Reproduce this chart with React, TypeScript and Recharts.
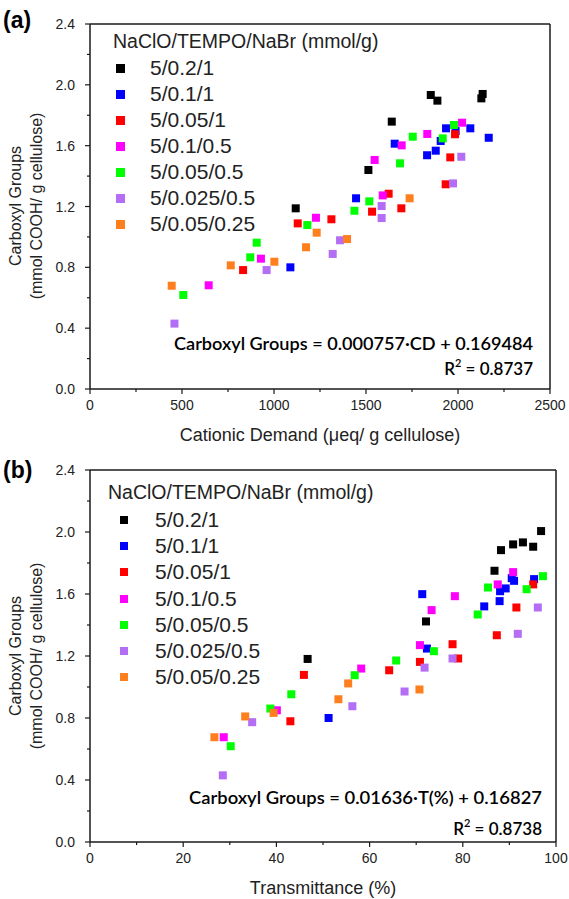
import * as React from 'react';
import { ScatterChart, Scatter, XAxis, YAxis, ReferenceLine, Legend } from 'recharts';

const seriesNames = ['5/0.2/1', '5/0.1/1', '5/0.05/1', '5/0.1/0.5', '5/0.05/0.5', '5/0.025/0.5', '5/0.05/0.25'];
const seriesColors = ['#000000', '#0000ff', '#ff0000', '#ff00ff', '#00ff00', '#b36ef5', '#ff7f1f'];

// (a) cationic demand (ueq/g) vs carboxyl groups (mmol/g)
const cdBlack = [[1118, 1.188], [1513, 1.44], [1640, 1.758], [1852, 1.933], [1888, 1.896], [2127, 1.911], [2134, 1.94]];
const cdBlue = [[1089, 0.8], [1446, 1.254], [1656, 1.613], [1832, 1.537], [1879, 1.567], [1906, 1.631], [1935, 1.714], [1987, 1.696], [2067, 1.714], [2167, 1.652]];
const cdRed = [[832, 0.782], [1129, 1.089], [1312, 1.116], [1533, 1.166], [1623, 1.284], [1692, 1.188], [1933, 1.346], [1958, 1.523], [1984, 1.675]];
const cdMagenta = [[645, 0.682], [929, 0.857], [1228, 1.126], [1547, 1.506], [1591, 1.273], [1694, 1.602], [1833, 1.677], [2022, 1.751]];
const cdGreen = [[507, 0.618], [871, 0.866], [906, 0.962], [1181, 1.078], [1437, 1.172], [1518, 1.234], [1685, 1.484], [1754, 1.659], [1917, 1.648], [1978, 1.736]];
const cdPurple = [[459, 0.43], [960, 0.782], [1319, 0.888], [1359, 0.978], [1585, 1.203], [1585, 1.124], [1973, 1.352], [2018, 1.527]];
const cdOrange = [[444, 0.679], [765, 0.813], [1002, 0.837], [1174, 0.932], [1232, 1.028], [1397, 0.986], [1737, 1.254]];

// (b) transmittance (%) vs carboxyl groups (mmol/g)
const tBlack = [[46.7, 1.181], [72.1, 1.423], [86.8, 1.75], [88.2, 1.883], [90.8, 1.92], [92.9, 1.933], [95.1, 1.905], [96.8, 2.006]];
const tBlue = [[51.2, 0.8], [71.3, 1.599], [72.3, 1.248], [84.6, 1.52], [87.9, 1.554], [88.0, 1.618], [89.2, 1.636], [90.5, 1.702], [91.0, 1.685], [95.3, 1.696]];
const tRed = [[43.0, 0.779], [45.9, 1.078], [64.2, 1.108], [70.8, 1.162], [77.8, 1.276], [79.0, 1.184], [87.3, 1.334], [91.5, 1.513], [95.1, 1.662]];
const tMagenta = [[28.7, 0.676], [40.1, 0.85], [58.2, 1.119], [70.8, 1.27], [73.3, 1.496], [78.3, 1.586], [87.5, 1.662], [90.8, 1.741]];
const tGreen = [[30.2, 0.618], [38.7, 0.861], [43.2, 0.953], [56.8, 1.076], [65.7, 1.171], [73.8, 1.231], [83.2, 1.468], [85.4, 1.642], [93.7, 1.631], [97.2, 1.715]];
const tPurple = [[28.5, 0.43], [34.8, 0.773], [56.3, 0.876], [67.5, 0.971], [71.8, 1.125], [77.8, 1.184], [91.8, 1.343], [96.1, 1.513]];
const tOrange = [[26.7, 0.676], [33.3, 0.81], [39.4, 0.833], [53.3, 0.921], [55.4, 1.023], [70.7, 0.984]];

const cdTicks = [0, 250, 500, 750, 1000, 1250, 1500, 1750, 2000, 2250, 2500];
const tTicks = [0, 10, 20, 30, 40, 50, 60, 70, 80, 90, 100];
const cgTicks = [0, 0.2, 0.4, 0.6, 0.8, 1.0, 1.2, 1.4, 1.6, 1.8, 2.0, 2.2, 2.4];

const AXIS = '#1a1a1a';
const SANS = '"Liberation Sans", Arial, sans-serif';

const toPts = (arr: number[][]) => arr.map(([x, y]) => ({ x, y }));

const square = (color: string, s: number) => (p: any) => (
  <rect x={p.cx - s / 2} y={p.cy - s / 2} width={s} height={s} fill={color} />
);

const xTick = (majorStep: number) => (p: any) => {
  const v = p.payload.value;
  const major = Math.round(v) % majorStep === 0;
  return (
    <g>
      <line x1={p.x} x2={p.x} y1={p.y} y2={p.y + (major ? 5 : 3)} stroke={AXIS} strokeWidth={1.2} />
      {major && (
        <text x={p.x} y={p.y + 16} textAnchor="middle" dominantBaseline="central" fontSize={14} fontFamily={SANS} fill="#222">
          {v}
        </text>
      )}
    </g>
  );
};

const yTick = (p: any) => {
  const v = p.payload.value;
  const major = Math.round(v * 10) % 4 === 0;
  return (
    <g>
      <line x1={p.x} x2={p.x - (major ? 5 : 3)} y1={p.y} y2={p.y} stroke={AXIS} strokeWidth={1.2} />
      {major && (
        <text x={p.x - 15} y={p.y} textAnchor="end" dominantBaseline="central" fontSize={14} fontFamily={SANS} fill="#222">
          {v.toFixed(1)}
        </text>
      )}
    </g>
  );
};

const legendContent = (o: { markX: number; textX: number; mark: number; titleH: number; rowH: number }) => (props: any) => {
  const items = [...(props.payload || [])].sort(
    (a: any, b: any) => seriesNames.indexOf(a.value) - seriesNames.indexOf(b.value)
  );
  return (
    <div style={{ fontFamily: SANS, color: '#222' }}>
      <div style={{ height: o.titleH, lineHeight: '26px', fontSize: 19.5, whiteSpace: 'nowrap' }}>NaClO/TEMPO/NaBr (mmol/g)</div>
      {items.map((e: any, i: number) => (
        <div key={i} style={{ position: 'relative', height: o.rowH }}>
          <span style={{ position: 'absolute', left: o.markX - o.mark / 2, top: o.rowH / 2 - o.mark / 2, width: o.mark, height: o.mark, background: e.color }} />
          <span style={{ position: 'absolute', left: o.textX, top: 0, lineHeight: `${o.rowH}px`, fontSize: 21, whiteSpace: 'nowrap' }}>{e.value}</span>
        </div>
      ))}
    </div>
  );
};

type PanelProps = {
  top: number;
  height: number;
  margin: { top: number; right: number; bottom: number; left: number };
  letter: string;
  xMax: number;
  xTicks: number[];
  majorStep: number;
  xTitle: string;
  series: number[][][];
  eq: string;
  r2: string;
  eqX: number;
  eqY: number;
  r2Y: number;
  eqLen: number;
  plotMid: number;
  xTitleX: number;
  xTitleY: number;
  legendPos: { left: number; top: number };
  legendOpts: { markX: number; textX: number; mark: number; titleH: number; rowH: number };
  markSize: number;
};

const Panel = (p: PanelProps) => (
  <div style={{ position: 'absolute', left: 0, top: p.top }}>
    <ScatterChart width={569} height={p.height} margin={p.margin}>
      <XAxis
        type="number"
        dataKey="x"
        domain={[0, p.xMax]}
        ticks={p.xTicks}
        interval={0}
        height={40}
        tickSize={0}
        tickMargin={0}
        tickLine={false}
        axisLine={{ stroke: AXIS, strokeWidth: 1.5 }}
        tick={xTick(p.majorStep)}
      />
      <YAxis
        type="number"
        dataKey="y"
        domain={[0, 2.4]}
        ticks={cgTicks}
        interval={0}
        width={60}
        tickSize={0}
        tickMargin={0}
        tickLine={false}
        axisLine={{ stroke: AXIS, strokeWidth: 1.5 }}
        tick={yTick}
      />
      <ReferenceLine y={2.4} stroke={AXIS} strokeWidth={1.5} />
      <ReferenceLine x={p.xMax} stroke={AXIS} strokeWidth={1.5} />
      <Legend
        layout="vertical"
        align="center"
        verticalAlign="middle"
        content={legendContent(p.legendOpts)}
        wrapperStyle={{ left: p.legendPos.left, top: p.legendPos.top, width: 300 }}
      />
      {p.series.map((s, i) => (
        <Scatter
          key={seriesNames[i]}
          name={seriesNames[i]}
          data={toPts(s)}
          fill={seriesColors[i]}
          shape={square(seriesColors[i], p.markSize)}
          isAnimationActive={false}
        />
      ))}
      <text x={3} y={p.letter === '(a)' ? 20 : 22} dominantBaseline="central" fontSize={23} fontWeight="bold" fontFamily={SANS}>
        {p.letter}
      </text>
      <text transform={`translate(15, ${p.plotMid}) rotate(-90)`} textAnchor="middle" dominantBaseline="central" fontSize={16} fontFamily={SANS} fill="#222">
        Carboxyl Groups
      </text>
      <text transform={`translate(36, ${p.plotMid}) rotate(-90)`} textAnchor="middle" dominantBaseline="central" fontSize={16} fontFamily={SANS} fill="#222">
        (mmol COOH/ g cellulose)
      </text>
      <text x={p.xTitleX} y={p.xTitleY} textAnchor="middle" dominantBaseline="central" fontSize={18} fontFamily={SANS} fill="#222">
        {p.xTitle}
      </text>
      <text x={p.eqX} y={p.eqY} textAnchor="end" dominantBaseline="central" fontSize={17} fontWeight={600} fontFamily="Lato, sans-serif" textLength={p.eqLen} lengthAdjust="spacingAndGlyphs">
        {p.eq}
      </text>
      <text x={p.eqX} y={p.r2Y} textAnchor="end" dominantBaseline="central" fontSize={17} fontWeight={600} fontFamily="Lato, sans-serif">
        R<tspan dy={-6} fontSize={11}>2</tspan>
        <tspan dy={6}> = {p.r2}</tspan>
      </text>
    </ScatterChart>
  </div>
);

const App = () => (
  <div style={{ position: 'absolute', left: 0, top: 0, width: 569, height: 899, background: '#fff' }}>
    <Panel
      top={0}
      height={448}
      margin={{ top: 24, right: 19, bottom: 19, left: 30 }}
      letter="(a)"
      xMax={2500}
      xTicks={cdTicks}
      majorStep={500}
      xTitle="Cationic Demand (μeq/ g cellulose)"
      series={[cdBlack, cdBlue, cdRed, cdMagenta, cdGreen, cdPurple, cdOrange]}
      eq="Carboxyl Groups = 0.000757·CD + 0.169484"
      r2="0.8737"
      eqX={533}
      eqY={343}
      r2Y={368}
      eqLen={359}
      plotMid={206}
      xTitleX={320}
      xTitleY={435}
      legendPos={{ left: 113, top: 28 }}
      legendOpts={{ markX: 7, textX: 37, mark: 9, titleH: 27, rowH: 26 }}
      markSize={8}
    />
    <Panel
      top={448}
      height={451}
      margin={{ top: 22, right: 13, bottom: 17, left: 30 }}
      letter="(b)"
      xMax={100}
      xTicks={tTicks}
      majorStep={20}
      xTitle="Transmittance (%)"
      series={[tBlack, tBlue, tRed, tMagenta, tGreen, tPurple, tOrange]}
      eq="Carboxyl Groups = 0.01636·T(%) + 0.16827"
      r2="0.8738"
      eqX={542}
      eqY={349}
      r2Y={380}
      eqLen={353}
      plotMid={208}
      xTitleX={323}
      xTitleY={440}
      legendPos={{ left: 108, top: 31 }}
      legendOpts={{ markX: 16, textX: 47, mark: 8, titleH: 28, rowH: 26.2 }}
      markSize={8}
    />
  </div>
);

export default App;
